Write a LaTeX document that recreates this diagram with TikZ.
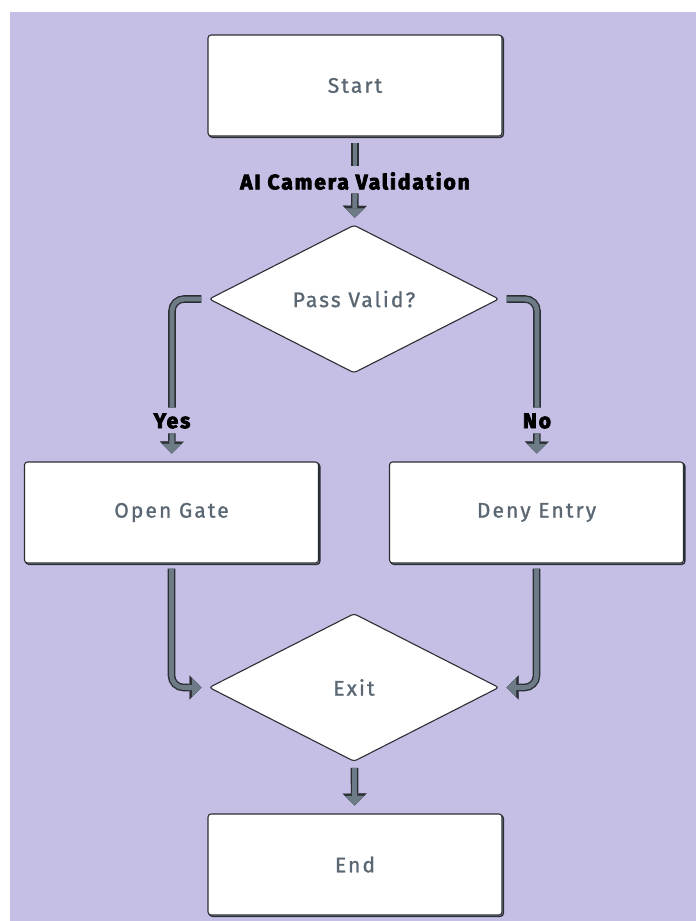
\documentclass[tikz,border=0pt]{standalone}
\usepackage{fontspec}
\setmainfont{Fira Sans}
\newfontfamily\boxfont{Fira Sans}[LetterSpace=10, FakeBold=1.2]
\newfontfamily\tagfont{Fira Sans}[LetterSpace=9, BoldFeatures={FakeBold=3.5}]
\usetikzlibrary{shapes.geometric, arrows.meta}
\definecolor{bglav}{HTML}{C5BFE5}
\definecolor{edgedark}{HTML}{2A2F33}
\definecolor{shaft}{HTML}{6D7B86}
\definecolor{txtgray}{HTML}{5B6873}
\tikzset{
  stepbox/.style={rectangle, draw=edgedark, fill=white, line width=1.1pt, rounded corners=3pt,
    minimum width=294pt, minimum height=101pt, inner sep=0pt,
    font=\boxfont\fontsize{21}{25}\selectfont, text=txtgray,
    preaction={draw=edgedark, line width=1.4pt, transform canvas={shift={(1.3,1.3)}}}},
  decision/.style={diamond, shape aspect=2, draw=edgedark, fill=white, line width=1.1pt, rounded corners=3pt,
    minimum width=290pt, minimum height=148pt, inner sep=0pt,
    font=\boxfont\fontsize{21}{25}\selectfont, text=txtgray},
  tag/.style={inner sep=0pt, text=black, font=\tagfont\bfseries\fontsize{21}{25}\selectfont},
  barline/.style={draw=shaft, line width=4.8pt, preaction={draw=edgedark, line width=7.6pt}},
  bararrow/.style={draw=shaft, line width=4.8pt,
    -{Triangle[length=9.5pt,width=19pt,line width=0.1pt]},
    preaction={draw=edgedark, line width=7.6pt, -{Triangle[length=12pt,width=24pt,line width=0.1pt]}}},
}
\begin{document}
\begin{tikzpicture}[x=1pt,y=-1pt]
\useasboundingbox (0,0) rectangle (696,921);
\fill[bglav] (10,12) rectangle (696,921);

\node[stepbox] (start) at (355,85.5) {Start};
\node[tag] (lab1) at (355,181) {AI Camera Validation};
\node[decision] (pass) at (354,299) {Pass Valid?};
\node[tag] (yes) at (172,421) {Yes};
\node[tag] (no) at (537,421) {No};
\node[stepbox] (open) at (171.5,512.5) {Open Gate};
\node[stepbox] (deny) at (536.5,512.5) {Deny Entry};
\node[decision] (exit) at (354,687.5) {Exit};
\node[stepbox] (end) at (355,864.5) {End};

\draw[barline, shorten <=6pt, shorten >=6.4pt] (start) -- (lab1);
\draw[bararrow, shorten <=3.4pt, shorten >=7pt] (lab1) -- (pass);

\draw[barline, rounded corners=12pt, shorten <=7pt, shorten >=5.7pt] (pass.west) -| (yes);
\draw[barline, rounded corners=12pt, shorten <=7pt, shorten >=5.7pt] (pass.east) -| (no);
\draw[bararrow, shorten <=4.7pt, shorten >=8pt] (yes) -- (open);
\draw[bararrow, shorten <=4.7pt, shorten >=8pt] (no) -- (deny);

\draw[bararrow, rounded corners=12pt, shorten <=5pt, shorten >=7pt] (open.south) |- (exit.west);
\draw[bararrow, rounded corners=12pt, shorten <=5pt, shorten >=7pt] (deny.south) |- (exit.east);

\draw[bararrow, shorten <=6pt, shorten >=8pt] (exit) -- (end);
\end{tikzpicture}
\end{document}
